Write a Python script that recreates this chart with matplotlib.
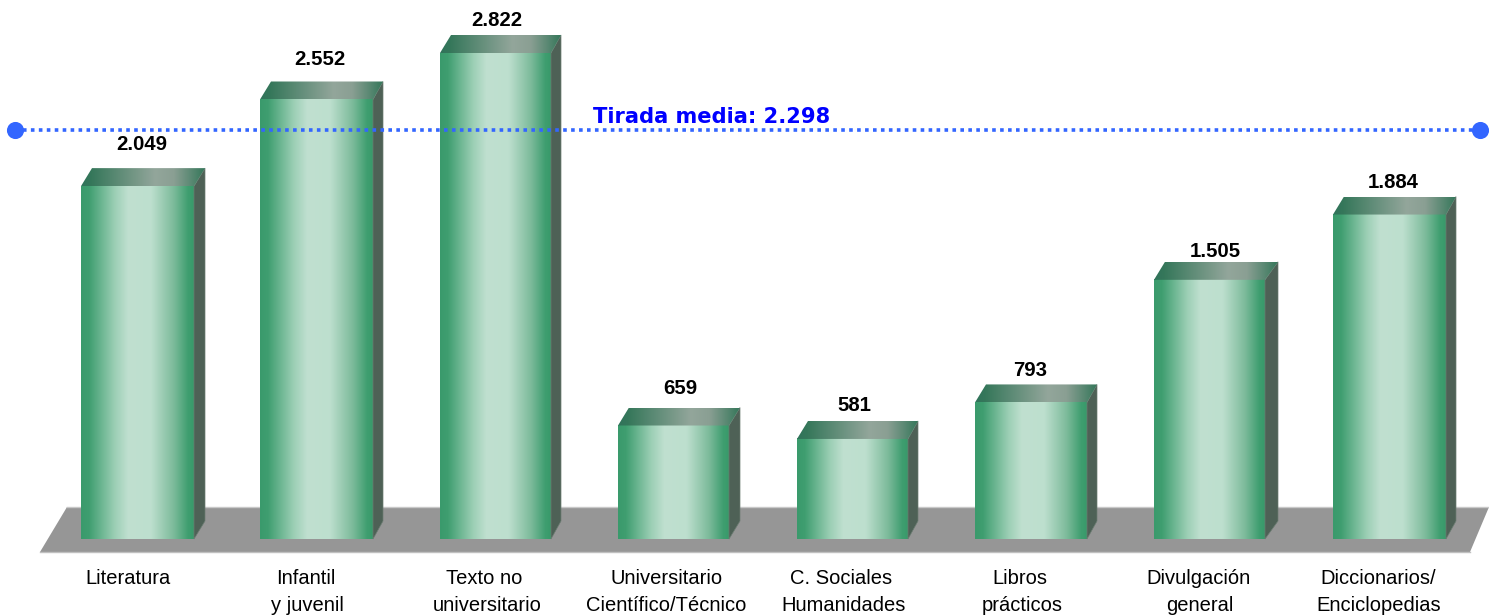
import numpy as np
import matplotlib
matplotlib.use("Agg")
import matplotlib.pyplot as plt
from matplotlib.colors import LinearSegmentedColormap
from matplotlib.patches import Polygon

labels_line1 = ["Literatura", "Infantil", "Texto no", "Universitario", "C. Sociales",
                "Libros", "Divulgación", "Diccionarios/"]
labels_line2 = ["", "y juvenil", "universitario", "Científico/Técnico", "Humanidades",
                "prácticos", "general", "Enciclopedias"]
values = [2049, 2552, 2822, 659, 581, 793, 1505, 1884]
value_labels = ["2.049", "2.552", "2.822", "659", "581", "793", "1.505", "1.884"]
mean_label = "Tirada media: 2.298"

W, H = 1489, 616
BASE_PX, TOP_PX = 539, 53
K = (BASE_PX - TOP_PX) / 2822.0   # px per unit
lefts = [81, 260, 440, 618, 797, 975, 1154, 1333]
rights = [194, 373, 551, 729, 908, 1087, 1265, 1446]
side_rights = [205, 383, 561, 740, 918, 1097, 1278, 1456]
value_x = [142, 320, 497, 680, 854, 1030, 1215, 1393]
value_base_px = [150, 65, 26, 394, 411, 376, 257, 188]
line1_x = [128, 306, 484.5, 667, 841, 1020, 1198.5, 1378.5]
line2_x = [128, 307, 487, 666, 843.5, 1022, 1200, 1379]
DX_TOP = 11
DY = 18 / K

plt.rcParams['font.family'] = ['Liberation Sans', 'DejaVu Sans']
fig = plt.figure(figsize=(W / 100, H / 100), dpi=100)
ax = fig.add_axes([0, 0, 1, 1])
ax.axis("off")

def py(p):
    return (BASE_PX - p) / K

front = LinearSegmentedColormap.from_list("f", [(0, "#3a9a6c"), (0.07, "#3f9e70"), (0.3, "#9ccfb5"), (0.42, "#c0e0d0"),
                                                (0.62, "#bddfce"), (0.82, "#7dbb9b"), (0.95, "#3f9e70"), (1, "#389a6a")])
top = LinearSegmentedColormap.from_list("t", [(0, "#30735a"), (0.08, "#35775a"), (0.6, "#93a69b"), (0.75, "#8a9f93"), (1, "#35775a")])
grad = np.linspace(0, 1, 256)[None, :]

ax.add_patch(Polygon([(40, py(552)), (67, py(507)), (1489, py(507)), (1470, py(552))],
                     closed=True, fc="#969696", ec="none", zorder=1))
ax.plot([67, 1489], [py(507), py(507)], color="#c8c8c8", lw=1, zorder=1)
ax.plot([40, 1470], [py(552), py(552)], color="#c0c0c0", lw=1, zorder=1)

for x, xr, xs, v, t, vx, vb in zip(lefts, rights, side_rights, values, value_labels, value_x, value_base_px):
    ax.imshow(grad, cmap=front, extent=[x, xr, 0, v], aspect="auto", zorder=3, interpolation="bilinear")
    ax.add_patch(Polygon([(xr, 0), (xs, DY), (xs, v + DY), (xr, v)],
                         closed=True, fc="#4e6156", ec="#6b7c72", lw=0.5, zorder=3))
    im = ax.imshow(grad, cmap=top, extent=[x, xs, v, v + DY], aspect="auto", zorder=3, interpolation="bilinear")
    clip = Polygon([(x, v), (x + DX_TOP, v + DY), (xs, v + DY), (xr, v)],
                   closed=True, transform=ax.transData, fc="none", ec="none")
    ax.add_patch(clip)
    im.set_clip_path(clip)
    ax.text(vx, py(vb), t, ha="center", va="baseline", fontsize=14.7,
            fontweight="bold", color="black", zorder=5)

ax.plot([15, 1480], [py(130), py(130)], ls=(0, (1, 1.2)), lw=2.6, color="#3366ff", zorder=6)
ax.plot([15, 1480], [py(130), py(130)], ls="none", marker="o", ms=11.3, color="#3366ff", zorder=7)
ax.text(712, py(122.5), mean_label, ha="center", va="baseline", fontsize=15.1, fontweight="bold",
        family="DejaVu Sans", color="#0000ff", zorder=8)

for s, xp in zip(labels_line1, line1_x):
    ax.text(xp, py(584), s, ha="center", va="baseline", fontsize=14.5, color="black", zorder=5)
for s, xp in zip(labels_line2, line2_x):
    if s:
        ax.text(xp, py(611), s, ha="center", va="baseline", fontsize=14.5, color="black", zorder=5)

ax.set_xlim(0, W)
ax.set_ylim(-(H - BASE_PX) / K, BASE_PX / K)

fig.savefig("out.png", dpi=100)
